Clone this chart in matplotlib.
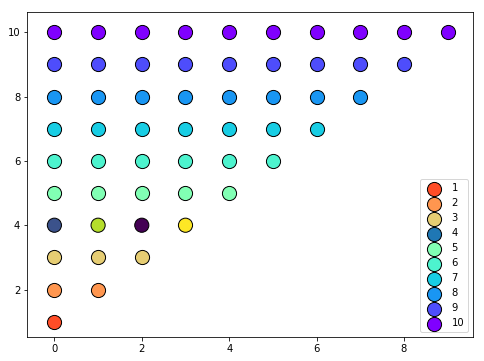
import matplotlib
matplotlib.use("Agg")
import matplotlib.pyplot as plt
import numpy as np

# data
rows_y = [1, 2, 3, 4, 5, 6, 7, 8, 9, 10]
rows_x = [
    [0],
    [0, 1],
    [0, 1, 2],
    [0, 1, 2, 3],
    [0, 1, 2, 3, 4],
    [0, 1, 2, 3, 4, 5],
    [0, 1, 2, 3, 4, 5, 6],
    [0, 1, 2, 3, 4, 5, 6, 7],
    [0, 1, 2, 3, 4, 5, 6, 7, 8],
    [0, 1, 2, 3, 4, 5, 6, 7, 8, 9],
]
row4_values = [0.25, 0.89, 0.0, 1.0]
labels = ["1", "2", "3", "4", "5", "6", "7", "8", "9", "10"]

fig = plt.figure(figsize=(484 / 72, 361 / 72), dpi=72)
ax = fig.add_axes([27.3 / 484, (361 - 337.3) / 361, (473.3 - 27.3) / 484, (337.3 - 12) / 361])

cmap = plt.get_cmap("rainbow")
handles = []
for i, (y, xs, lab) in enumerate(zip(rows_y, rows_x, labels)):
    ys = [y] * len(xs)
    if y == 4:
        ax.scatter(xs, ys, c=row4_values, cmap="viridis", vmin=0, vmax=1,
                   s=200, edgecolors="black", linewidths=1, zorder=2)
        h = ax.scatter([], [], color="C0", s=200, edgecolors="black",
                       linewidths=1, label=lab)
    else:
        col = cmap((10 - y) / 10)
        h = ax.scatter(xs, ys, color=col, s=200, edgecolors="black",
                       linewidths=1, label=lab, zorder=2)
    handles.append(h)

ax.set_xlim(-0.62, 9.586)
ax.set_ylim(0.515, 10.63)
ax.set_xticks([0, 2, 4, 6, 8])
ax.set_yticks([2, 4, 6, 8, 10])
ax.tick_params(labelsize=10)

ax.legend(handles=handles, labels=labels, loc="lower right", scatterpoints=1, fontsize=10)

fig.savefig("out.png", dpi=72)
